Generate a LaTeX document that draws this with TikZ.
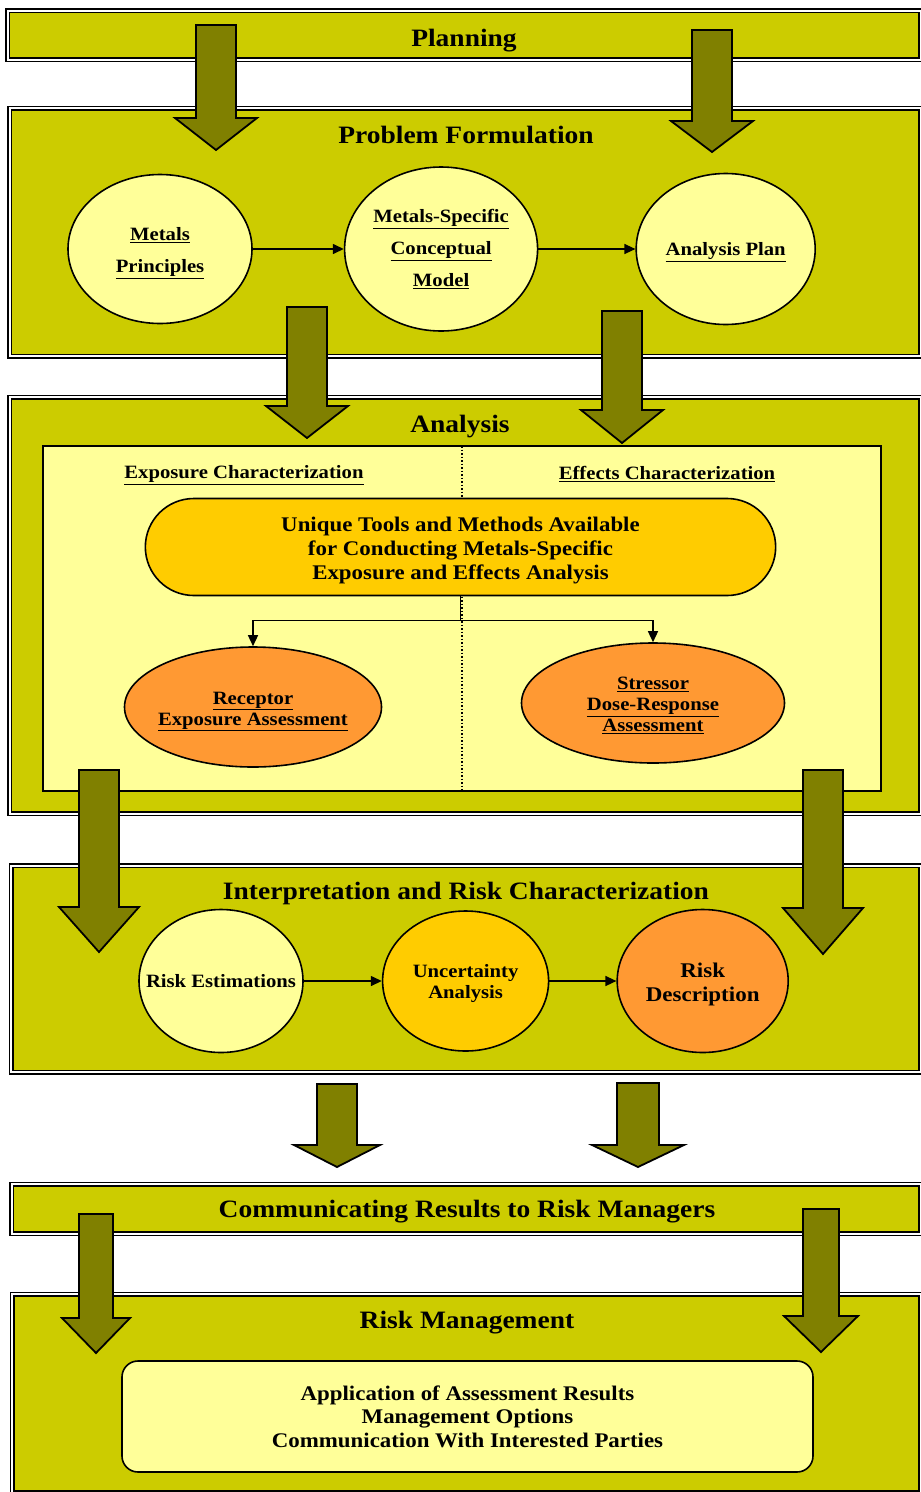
\documentclass[tikz,border=0pt]{standalone}
\usepackage{fontspec}
\setmainfont{Liberation Serif}[FakeStretch=1.1]
\usepackage{xcolor}
\usepackage{tikz}
\usetikzlibrary{shapes,arrows.meta,positioning}

\definecolor{panelfill}{HTML}{CCCC00}
\definecolor{paleyellow}{HTML}{FFFF99}
\definecolor{goldfill}{HTML}{FFCC00}
\definecolor{orangefill}{HTML}{FF9933}
\definecolor{olivefill}{HTML}{808000}

% block arrow: x, top, head start, tip, shaft half width, head half width
\newcommand{\bigarrow}[6]{%
  \draw[bigarr] (#1-#5,#2) -- (#1+#5,#2) -- (#1+#5,#3) -- (#1+#6,#3) -- (#1,#4)
    -- (#1-#6,#3) -- (#1-#5,#3) -- cycle;}
% extra room above the first line, pushes the text down a little
\newcommand{\dropline}[1]{\rule{0pt}{#1}}

\begin{document}
\begin{tikzpicture}[
    x=1pt, y=-1pt,
    panel/.style={draw, line width=1.5pt, double=white, double distance=2pt, fill=panelfill},
    title/.style={font=\fontsize{25}{30}\selectfont\bfseries},
    oval/.style={ellipse, draw, line width=1.6pt, inner sep=0pt, align=center, font=\fontsize{18.8}{32}\selectfont\bfseries},
    arrow/.style={-{Triangle[length=11pt,width=10pt]}, line width=1.4pt},
    bigarr/.style={draw, line width=1.8pt, fill=olivefill, line join=miter}
]
  \useasboundingbox (0,0) rectangle (921,1492);

  % Panels
  \draw[panel] (7.5,10.5) rectangle (920.5,59.5);
  \draw[panel] (9.5,108) rectangle (920.5,356);
  \draw[panel] (9.5,397) rectangle (920.5,813.5);
  \draw[panel] (11,865.5) rectangle (920.5,1072);
  \draw[panel] (11.5,1184) rectangle (920.5,1233.5);
  \draw[panel] (12,1294) rectangle (920.5,1492.5);

  % Titles
  \node[title] (planning) at (464,40.5) {Planning};
  \node[title] (problem) at (466,135) {Problem Formulation};
  \node[title] (analysis) at (460,426.5) {Analysis};
  \node[title] (interp) at (466,893) {Interpretation and Risk Characterization};
  \node[title] (communicate) at (467,1211.5) {Communicating Results to Risk Managers};
  \node[title] (management) at (467,1322.5) {Risk Management};

  % Problem formulation
  \node[oval, fill=paleyellow, minimum width=184pt, minimum height=149pt] (principles) at (160,249)
    {\dropline{21pt}\underline{Metals}\\\underline{Principles}};
  \node[oval, fill=paleyellow, minimum width=193pt, minimum height=164pt, right=91pt of principles] (model)
    {\underline{Metals-Specific}\\\underline{Conceptual}\\\underline{Model}};
  \node[oval, fill=paleyellow, minimum width=179pt, minimum height=151pt, right=97pt of model] (plan)
    {\dropline{19pt}\underline{Analysis Plan}};
  \draw[arrow] (principles) -- (model);
  \draw[arrow] (model) -- (plan);

  % Analysis
  \draw[line width=1.8pt, fill=paleyellow] (43,446) rectangle (881,791);
  \draw[line width=1.5pt, dotted] (462,446) -- (462,791);
  \node[font=\fontsize{18.8}{22}\selectfont\bfseries] (exposure) at (244,475) {\underline{Exposure Characterization}};
  \node[font=\fontsize{18.8}{22}\selectfont\bfseries] (effects) at (667,474) {\underline{Effects Characterization}};
  \node[rounded rectangle, draw, line width=1.6pt, fill=goldfill, minimum width=637pt, minimum height=97pt,
        align=center, font=\fontsize{20.8}{24}\selectfont\bfseries] (tools) at (460.5,547)
    {\dropline{22pt}Unique Tools and Methods Available\\for Conducting Metals-Specific\\Exposure and Effects Analysis};
  \node[oval, fill=orangefill, minimum width=257pt, minimum height=120pt, inner xsep=-5pt,
        font=\fontsize{18.8}{21}\selectfont\bfseries] (receptor) at (253,707)
    {\dropline{21pt}\underline{Receptor}\\\underline{Exposure Assessment}};
  \node[oval, fill=orangefill, minimum width=263pt, minimum height=120pt,
        font=\fontsize{18.8}{21}\selectfont\bfseries] (stressor) at (653,703)
    {\dropline{18pt}\underline{Stressor}\\\underline{Dose-Response}\\\underline{Assessment}};
  \draw[arrow] (tools.south) -- ++(0,24) -| (receptor.north);
  \draw[arrow] (tools.south) -- ++(0,24) -| (stressor.north);

  % Interpretation
  \node[oval, fill=paleyellow, minimum width=164pt, minimum height=143pt, inner xsep=-17pt] (estimate) at (221,981)
    {Risk Estimations};
  \node[oval, fill=goldfill, minimum width=166pt, minimum height=140pt, font=\fontsize{18.8}{21}\selectfont\bfseries,
        right=78pt of estimate] (uncertainty) {\dropline{19pt}Uncertainty\\Analysis};
  \node[oval, fill=orangefill, minimum width=171pt, minimum height=143pt, font=\fontsize{20.9}{24}\selectfont\bfseries,
        right=67pt of uncertainty] (description) {\dropline{21pt}Risk\\Description};
  \draw[arrow] (estimate) -- (uncertainty);
  \draw[arrow] (uncertainty) -- (description);

  % Risk management
  \node[rectangle, draw, rounded corners=16pt, line width=1.6pt, fill=paleyellow, minimum width=691pt, minimum height=111pt,
        align=center, font=\fontsize{20.8}{23.5}\selectfont\bfseries] (application) at (467.5,1416.5)
    {Application of Assessment Results\\Management Options\\Communication With Interested Parties};

  % Block arrows
  \bigarrow{216}{25}{118}{150}{20}{41}
  \bigarrow{712}{30}{121}{152}{20}{41}
  \bigarrow{307}{307}{406}{438}{20}{41}
  \bigarrow{622}{311}{410}{443}{20}{41}
  \bigarrow{99}{770}{907}{952}{20}{40}
  \bigarrow{823}{770}{908}{954}{20}{40}
  \bigarrow{337}{1084}{1145}{1167}{20}{43}
  \bigarrow{638}{1083}{1145}{1167}{21}{46}
  \bigarrow{96}{1214}{1318}{1353}{17}{34}
  \bigarrow{821}{1209}{1316}{1352}{18}{37}
\end{tikzpicture}
\end{document}
